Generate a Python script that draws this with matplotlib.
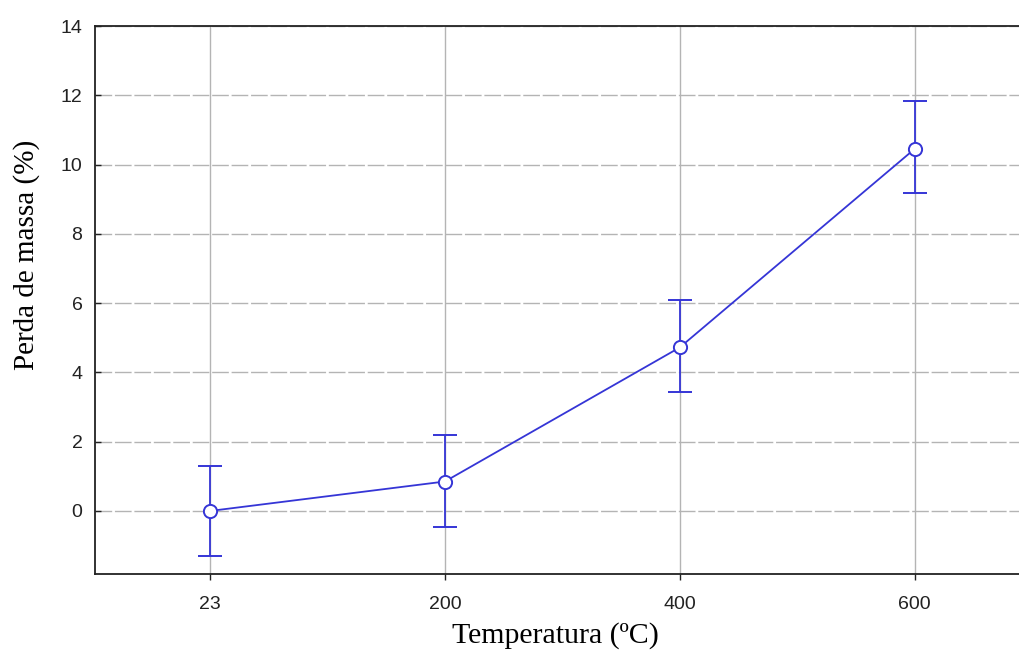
import matplotlib
matplotlib.use("Agg")
import matplotlib.pyplot as plt

# -----------------------------------------------------
# DATA
# -----------------------------------------------------

temperatures = ["23", "200", "400", "600"]
mass_loss = [0.0, 0.85, 4.72, 10.45]
err_upper = [1.30, 1.34, 1.37, 1.39]
err_lower = [1.30, 1.31, 1.28, 1.27]

y_ticks = [0, 2, 4, 6, 8, 10, 12, 14]

# -----------------------------------------------------
# PLOT
# -----------------------------------------------------

fig = plt.figure(figsize=(10.19, 6.5), dpi=100)
ax = fig.add_axes([95 / 1019, 1 - 574 / 650, (1032 - 95) / 1019, (574 - 26) / 650])

x = list(range(len(temperatures)))
line_color = "#3535d6"

ax.errorbar(x, mass_loss, yerr=[err_lower, err_upper], color=line_color,
            linewidth=1.3, elinewidth=1.3, capsize=8.5, capthick=1.3,
            marker="o", markersize=9.5, markerfacecolor="white",
            markeredgecolor=line_color, markeredgewidth=1.4, zorder=3)

ax.set_xlim(-0.49, 3.5)
ax.set_ylim(-1.82, 14)
ax.set_xticks(x)
ax.set_xticklabels(temperatures)
ax.set_yticks(y_ticks)

ax.xaxis.grid(True, color="#b4b4b4", linewidth=1.0, linestyle="-")
ax.yaxis.grid(True, color="#b4b4b4", linewidth=1.0, linestyle=(0, (12, 2)))
ax.set_axisbelow(True)

for side in ["left", "top", "bottom"]:
    ax.spines[side].set_linewidth(1.3)
    ax.spines[side].set_color("#222222")
ax.spines["right"].set_visible(False)

ax.tick_params(axis="both", labelsize=14, colors="#222222", length=4,
               width=1.0, labelfontfamily="Liberation Sans")
ax.tick_params(axis="x", direction="out", pad=12)
ax.tick_params(axis="y", direction="in", pad=9)

ax.set_xlabel("Temperatura (ºC)", fontsize=21.5, family="Liberation Serif")
ax.set_ylabel("Perda de massa (%)", fontsize=21, family="Liberation Serif")
ax.xaxis.set_label_coords(0.491, -0.087)
ax.yaxis.set_label_coords(-0.059, 0.582)

fig.savefig("out.png", dpi=100)
